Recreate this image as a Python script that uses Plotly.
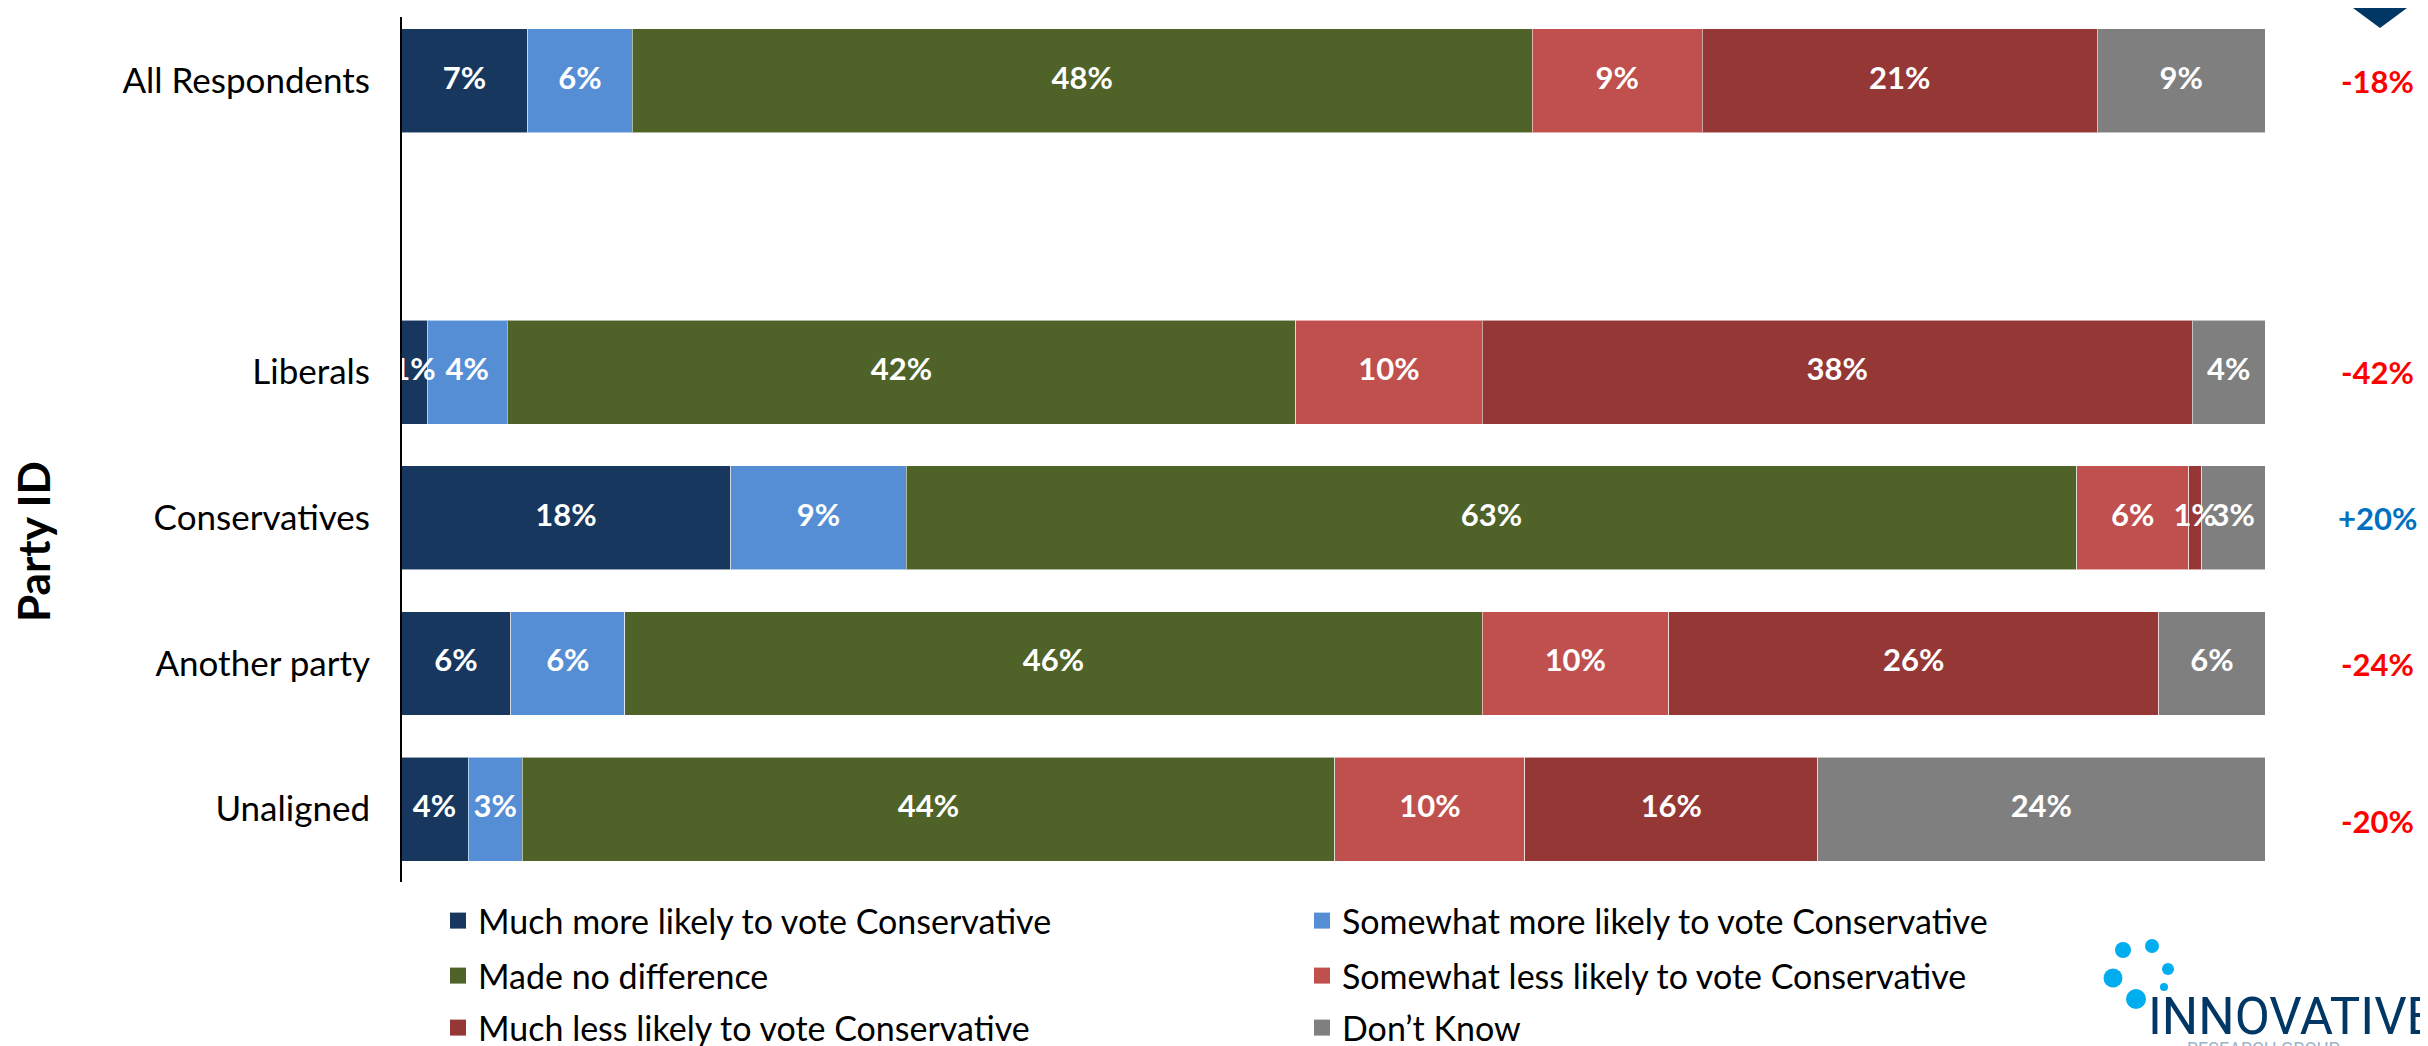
import plotly.graph_objects as go

# ---------------- data ----------------
groups = ["All Respondents", "Liberals", "Conservatives", "Another party", "Unaligned"]
series_names = [
    "Much more likely to vote Conservative",
    "Somewhat more likely to vote Conservative",
    "Made no difference",
    "Somewhat less likely to vote Conservative",
    "Much less likely to vote Conservative",
    "Don\u2019t Know",
]
much_more = [6.8, 1.4, 17.7, 5.9, 3.6]
somewhat_more = [5.6, 4.3, 9.4, 6.1, 2.9]
no_difference = [48.3, 42.3, 62.8, 46.0, 43.6]
somewhat_less = [9.1, 10.0, 6.0, 10.0, 10.2]
much_less = [21.2, 38.1, 0.7, 26.3, 15.7]
dont_know = [9.0, 3.9, 3.4, 5.7, 24.0]
net_labels = ["-18%", "-42%", "+20%", "-24%", "-20%"]

colors = ["#17375E", "#558ED5", "#4F6228", "#C0504D", "#953735", "#7F7F7F"]
FONT = "Lato"

# category order with a spacer row after "All Respondents"
SPACER = " "
cat_order = [groups[0], SPACER] + groups[1:]

# ---------------- geometry (screen pixels; page body has an 8px margin) ----------------
W, H = 2428, 1046
OFF = 8
L, R, T, B = 401, 2265, 8, 882  # plot area on screen


def px_x(x):
    return (x - L) / (R - L)


def px_y(y):
    return (B - y) / (B - T)


def cx(x):
    return (x - OFF) / W


def cy(y):
    return 1 - (y - OFF) / H


fig = go.Figure()
all_series = [much_more, somewhat_more, no_difference, somewhat_less, much_less, dont_know]
legend_ids = ["legend", "legend", "legend2", "legend2", "legend3", "legend3"]

# stacked bars
for name, vals, col in zip(series_names, all_series, colors):
    fig.add_trace(go.Bar(
        name=name, y=groups, x=vals, orientation="h",
        marker=dict(color=col, line=dict(color="rgba(255,255,255,0.55)", width=1)),
        showlegend=False, hoverinfo="skip",
    ))

# segment value labels, drawn on top of every bar (centred in each segment)
cum = [0.0] * len(groups)
lab_x, lab_y, lab_t = [], [], []
for vals in all_series:
    for i, v in enumerate(vals):
        lab_x.append(cum[i] + v / 2)
        lab_y.append(groups[i])
        lab_t.append(f"{v:.0f}%")
        cum[i] += v
fig.add_trace(go.Scatter(
    x=lab_x, y=lab_y, text=lab_t, mode="text", textposition="middle center",
    textfont=dict(family=FONT, size=31, color="white", weight="bold"),
    showlegend=False, hoverinfo="skip", cliponaxis=True,
))

# legend entries (square swatches)
for name, col, lg in zip(series_names, colors, legend_ids):
    fig.add_trace(go.Scatter(
        name=name, x=[None], y=[None], mode="markers",
        marker=dict(symbol="square", size=21, color=col),
        legend=lg, showlegend=True, hoverinfo="skip",
    ))

# net score labels
net_nudge = {"Unaligned": -12}
for g, lab in zip(groups, net_labels):
    fig.add_annotation(
        x=px_x(2377), xref="paper", y=g, yref="y",
        text=f"<b>{lab}</b>", showarrow=False, xanchor="center",
        yshift=net_nudge.get(g, 0),
        font=dict(family=FONT, size=31, color="#FF0000" if lab.startswith("-") else "#0070C0"),
    )

# axis title
fig.add_annotation(
    x=px_x(33), xref="paper", y=px_y(542), yref="paper",
    text="<b>Party ID</b>", showarrow=False, textangle=-90,
    xanchor="center", yanchor="middle",
    font=dict(family=FONT, size=44, color="black"),
)

# vertical category axis line
fig.add_shape(type="line", xref="paper", yref="paper", x0=0, x1=0,
              y0=0, y1=px_y(17), line=dict(color="black", width=2))

# top-right navy marker
fig.add_shape(
    type="path", xref="paper", yref="paper",
    path=f"M {px_x(2353)} {px_y(8)} L {px_x(2407)} {px_y(8)} L {px_x(2380)} {px_y(28)} Z",
    fillcolor="#003764", line=dict(width=0),
)

# logo: dots + wordmark
dots = [(2123, 950, 8), (2152, 946, 7), (2168, 969, 6), (2113, 978, 9.5), (2136, 999, 10), (2164, 987, 4)]
for dx, dy, r in dots:
    fig.add_shape(
        type="circle", xref="paper", yref="paper",
        x0=px_x(dx - r), x1=px_x(dx + r), y0=px_y(dy + r), y1=px_y(dy - r),
        fillcolor="#00AEEF", line=dict(width=0),
    )
fig.add_annotation(
    x=px_x(2146), xref="paper", y=px_y(1016), yref="paper",
    text="INNOVATIVE", showarrow=False, xanchor="left", yanchor="middle",
    font=dict(family="Roboto", size=51, color="#003764"),
)
fig.add_annotation(
    x=px_x(2185), xref="paper", y=px_y(1048), yref="paper",
    text="RESEARCH GROUP", showarrow=False, xanchor="left", yanchor="middle",
    font=dict(family="Roboto", size=18, color="#9DB3C8"),
)

legend_common = dict(
    orientation="h", xref="container", yref="container", xanchor="left", yanchor="middle",
    font=dict(family=FONT, size=34, color="black"), entrywidth=819, entrywidthmode="pixels",
    bgcolor="rgba(0,0,0,0)", traceorder="normal", itemsizing="trace",
)
fig.update_layout(
    width=W, height=H,
    margin=dict(l=L - OFF, r=W - (R - OFF), t=T - OFF, b=H - (B - OFF)),
    paper_bgcolor="white", plot_bgcolor="white",
    barmode="stack", bargap=0.287,
    showlegend=True,
    legend=dict(x=cx(438), y=cy(921), **legend_common),
    legend2=dict(x=cx(438), y=cy(976), **legend_common),
    legend3=dict(x=cx(438), y=cy(1028), **legend_common),
    xaxis=dict(range=[0, 100], showgrid=False, zeroline=False, showticklabels=False,
               showline=False, ticks="", fixedrange=True),
    yaxis=dict(categoryorder="array", categoryarray=cat_order, autorange="reversed",
               showgrid=False, zeroline=False, showline=False,
               ticks="", ticklabelstandoff=30,
               tickfont=dict(family=FONT, size=35, color="black")),
    font=dict(family=FONT),
)

fig.write_html("out.html")
